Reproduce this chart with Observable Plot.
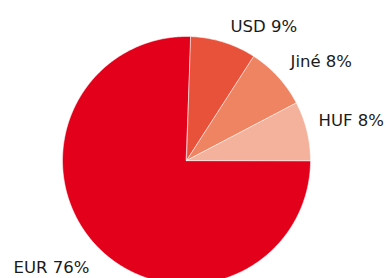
<!DOCTYPE html>
<html>
<head>
<meta charset="utf-8">
<script src="https://cdn.jsdelivr.net/npm/d3@7"></script>
<script src="https://cdn.jsdelivr.net/npm/@observablehq/plot@0.6"></script>
<style>
  html, body { margin: 0; padding: 0; background: #fff; }
  #chart svg { display: block; }
</style>
</head>
<body>
<div id="chart"></div>
<script>
// Data (shares in %, order clockwise starting at 3 o'clock)
const currencies = ["EUR", "USD", "Jiné", "HUF"];
const shares = [75.6, 8.6, 8.2, 7.7];
const labels = ["EUR 76%", "USD 9%", "Jiné 8%", "HUF 8%"];
const colors = ["#e2001a", "#e9523a", "#ef8463", "#f4b19b"];

// Layout
const W = 387, H = 278;
const cx = 186, cy = 160, R = 124;
// label anchor positions (unit-circle coordinates, text start / baseline)
const labelPos = [
  [-1.395, -0.909],
  [0.355, 1.040],
  [0.839, 0.752],
  [1.065, 0.277]
];

const arcs = d3.pie().sort(null).startAngle(Math.PI / 2).endAngle(Math.PI / 2 + 2 * Math.PI)(shares);

const poly = [];
arcs.forEach((a, i) => {
  poly.push({cur: currencies[i], x: 0, y: 0});
  const n = Math.max(2, Math.ceil((a.endAngle - a.startAngle) / (Math.PI / 360)));
  for (let k = 0; k <= n; k++) {
    const t = a.startAngle + (a.endAngle - a.startAngle) * k / n;
    poly.push({cur: currencies[i], x: Math.sin(t), y: Math.cos(t)});
  }
});

const textData = currencies.map((c, i) => ({cur: c, label: labels[i], x: labelPos[i][0], y: labelPos[i][1]}));

const chart = Plot.plot({
  width: W,
  height: H,
  margin: 0,
  style: {fontFamily: "DejaVu Sans", fontSize: "16.5px", background: "#fff"},
  x: {domain: [-cx / R, (W - cx) / R], axis: null},
  y: {domain: [(cy - H) / R, cy / R], axis: null},
  color: {domain: currencies, range: colors},
  marks: [
    Plot.line(poly, {x: "x", y: "y", z: "cur", fill: "cur", stroke: "#fff", strokeWidth: 1, strokeOpacity: 0.55, curve: "linear-closed"}),
    Plot.text(textData, {x: "x", y: "y", text: "label", textAnchor: "start", lineAnchor: "bottom", fill: "#1a1a1a", fontSize: 16.5})
  ]
});
document.getElementById("chart").appendChild(chart);
</script>
</body>
</html>
